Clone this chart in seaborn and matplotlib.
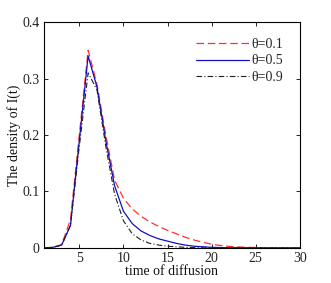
import matplotlib
matplotlib.use("Agg")
import matplotlib.pyplot as plt
import seaborn as sns
import numpy as np

t = list(range(1, 31))
dens_01 = [0, 0.001, 0.006, 0.05, 0.20, 0.35, 0.29, 0.20, 0.12, 0.088, 0.069, 0.056, 0.046,
           0.038, 0.031, 0.025, 0.019, 0.014, 0.010, 0.0065, 0.0042, 0.0027, 0.0017, 0.0011,
           0.0007, 0.0004, 0.0003, 0.0002, 0.0001, 0.0001]
dens_05 = [0, 0.001, 0.005, 0.04, 0.19, 0.34, 0.285, 0.19, 0.11, 0.065, 0.043, 0.030, 0.022,
           0.016, 0.012, 0.008, 0.005, 0.003, 0.002, 0.001, 0.0006, 0.0003, 0.0002, 0.0001,
           0, 0, 0, 0, 0, 0]
dens_09 = [0, 0.001, 0.005, 0.04, 0.18, 0.31, 0.28, 0.18, 0.095, 0.048, 0.025, 0.014, 0.008,
           0.005, 0.003, 0.002, 0.001, 0.0005, 0.0002, 0.0001, 0, 0, 0, 0, 0,
           0, 0, 0, 0, 0]
labels = ["θ=0.1", "θ=0.5", "θ=0.9"]

sns.set_style("white")
plt.rcParams["font.family"] = ["Liberation Serif", "DejaVu Serif"]

fig = plt.figure(figsize=(3.31, 2.83), dpi=100)
ax = fig.add_axes([0.133, 0.124, 0.773, 0.798])

sns.lineplot(x=t, y=dens_01, ax=ax, color="#ff3030", linestyle=(0, (6, 3)), linewidth=0.9, label=labels[0])
sns.lineplot(x=t, y=dens_05, ax=ax, color="#1010c0", linestyle="-", linewidth=0.9, label=labels[1])
sns.lineplot(x=t, y=dens_09, ax=ax, color="#202020", linestyle=(0, (5, 2, 1, 2)), linewidth=0.8, label=labels[2])

ax.set_xlim(1, 30)
ax.set_ylim(0, 0.4)
ax.set_xticks([5, 10, 15, 20, 25, 30])
ax.set_yticks([0, 0.1, 0.2, 0.3, 0.4])
ax.set_yticklabels(["0", "0.1", "0.2", "0.3", "0.4"])
ax.tick_params(direction="in", length=3, width=0.6, labelsize=10, top=True, right=True,
               bottom=True, left=True, color="black", labelcolor="#222222", pad=3)
for s in ax.spines.values():
    s.set_linewidth(0.8)
    s.set_color("black")

ax.set_xlabel("time of diffusion", fontsize=10, labelpad=0, color="#111111")
ax.set_ylabel("The density of I(t)", fontsize=10, labelpad=1, color="#111111")

ax.legend(loc="upper right", frameon=False, fontsize=10, handlelength=3.8,
          handletextpad=0.2, labelspacing=0.25, bbox_to_anchor=(0.985, 0.985))

plt.savefig("out.png", dpi=100)
